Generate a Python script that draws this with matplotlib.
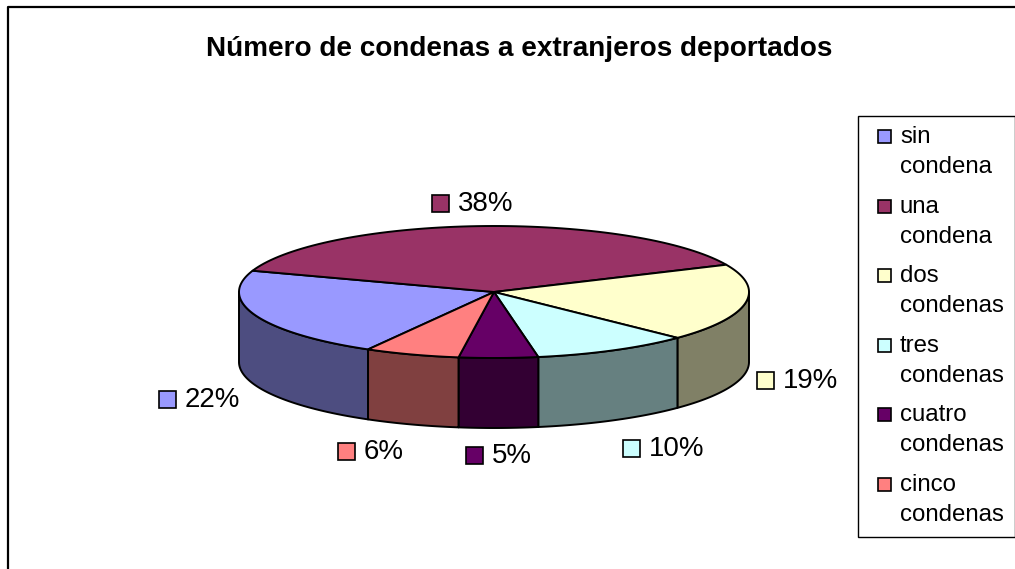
import numpy as np
import matplotlib
matplotlib.use('Agg')
import matplotlib.pyplot as plt
from matplotlib.patches import Polygon, Rectangle

plt.rcParams['font.family'] = ['Liberation Sans', 'DejaVu Sans']

titulo = 'Número de condenas a extranjeros deportados'
categorias = ['sin condena', 'una condena', 'dos condenas', 'tres condenas', 'cuatro condenas', 'cinco condenas']
valores = [22, 38, 19, 10, 5, 6]
colores = ['#9999FF', '#993366', '#FFFFCC', '#CCFFFF', '#660066', '#FF8080']

# sitio de cada etiqueta (cuadrito izq, centro y)
pos_etiquetas = [(159, 399), (432, 203), (757, 380), (623, 448), (466, 455), (338, 451)]

# geometria del pastel en pixeles
cx, cy = 494, 292
rx, ry = 255, 66
alto = 70
inicio = -119.6  # la primera porcion empieza aqui y va en sentido horario

fig = plt.figure(figsize=(10.15, 5.69), dpi=100)
ax = fig.add_axes([0, 0, 1, 1])
ax.set_xlim(0, 1015)
ax.set_ylim(569, 0)
ax.axis('off')

# marco del grafico, recortado por la derecha y por abajo
ax.plot([8, 8, 1015], [569, 7, 7], color='black', lw=1.6, solid_capstyle='butt')

ax.text(519, 49, titulo, ha='center', va='center', fontsize=20.1, fontweight='bold')


def borde(a1, a2):
    t = np.radians(np.linspace(a1, a2, 80))
    return cx + rx * np.cos(t), cy - ry * np.sin(t)


def oscuro(c):
    return tuple(v * 0.5 for v in matplotlib.colors.to_rgb(c))


# angulos de cada porcion (horario, a1 > a2)
angulos = []
a = inicio
for v in valores:
    angulos.append((a, a - v * 3.6))
    a -= v * 3.6

# paredes laterales: solo la mitad de delante se ve
for (a1, a2), c in zip(angulos, colores):
    # pasamos todo a la vuelta 180..360 para recortar
    for k in (-360, 0, 360):
        lo = max(a2 + k, -180)
        hi = min(a1 + k, 0)
        if hi > lo:
            x, y = borde(lo, hi)
            xs = np.concatenate([x, x[::-1]])
            ys = np.concatenate([y, y[::-1] + alto])
            ax.add_patch(Polygon(np.column_stack([xs, ys]), closed=True, fc=oscuro(c),
                                 ec='black', lw=1.4, joinstyle='round'))

# tapa de arriba
for (a1, a2), c in zip(angulos, colores):
    x, y = borde(a1, a2)
    xs = np.concatenate([[cx], x])
    ys = np.concatenate([[cy], y])
    ax.add_patch(Polygon(np.column_stack([xs, ys]), closed=True, fc=c,
                         ec='black', lw=1.4, joinstyle='round'))

# etiquetas de porcentaje
for v, c, (px, py) in zip(valores, colores, pos_etiquetas):
    ax.add_patch(Rectangle((px, py - 8), 17, 17, fc=c, ec='black', lw=1.2))
    ax.text(px + 26, py + 1, '%d%%' % v, ha='left', va='center', fontsize=19.9, color='black')

# leyenda
ax.add_patch(Rectangle((858, 116), 157, 421, fc='white', ec='black', lw=1.0, clip_on=True))
y0 = 136
paso = 69.6
for i, (cat, c) in enumerate(zip(categorias, colores)):
    y = y0 + i * paso
    l1, l2 = cat.split(' ')
    ax.add_patch(Rectangle((878.5, y - 6), 13, 13, fc=c, ec='black', lw=1.2))
    ax.text(900, y + 1, l1, ha='left', va='center', fontsize=17.3)
    ax.text(900, y + 31, l2, ha='left', va='center', fontsize=17.3)

fig.savefig('out.png', dpi=100)
